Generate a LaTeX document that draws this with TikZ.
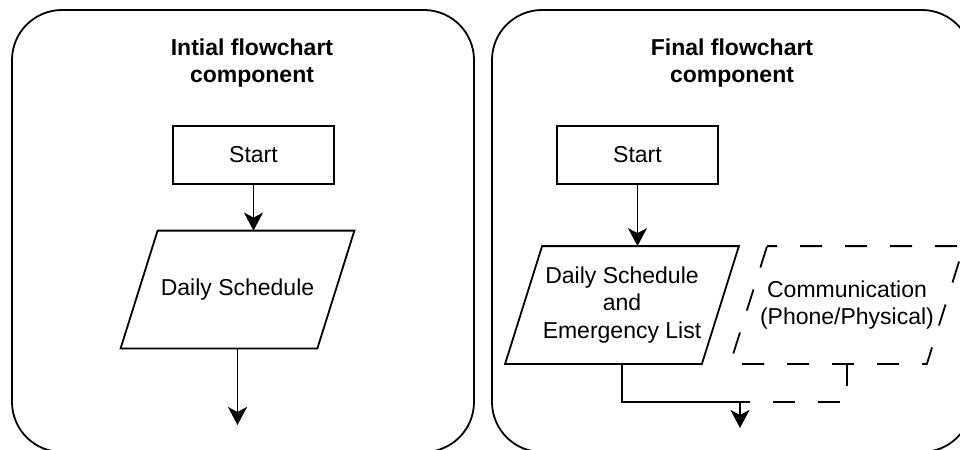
\documentclass[tikz,border=0pt]{standalone}
\usepackage{fontspec}
\setmainfont{Liberation Sans}
\usetikzlibrary{arrows.meta,positioning}

\begin{document}
\begin{tikzpicture}[x=0.5pt, y=-0.5pt, line width=0.9pt,
        txt/.style={font=\fontsize{11.5}{13.8}\selectfont, align=center},
        title/.style={font=\bfseries\fontsize{11.5}{13.8}\selectfont, align=center},
        panel/.style={draw, rounded corners=25pt},
        startbox/.style={draw, txt, minimum width=80.5pt, minimum height=29pt},
        iobox/.style={txt, minimum width=97.5pt, minimum height=58pt, inner sep=0pt,
            append after command={\pgfextra{\draw[#1]
                ([xshift=9.25pt]\tikzlastnode.north west) -- ([xshift=9.25pt]\tikzlastnode.north east)
                -- ([xshift=-9.25pt]\tikzlastnode.south east) -- ([xshift=-9.25pt]\tikzlastnode.south west)
                -- cycle;}}},
        iobox/.default={},
        flow/.style={-{Stealth[length=9pt, width=9.5pt, inset=2.5pt]}},
        dashedline/.style={dash pattern=on 11pt off 11.5pt, dash phase=6pt}]
    \useasboundingbox (0,0) rectangle (960,450);
    \clip (0,0) rectangle (960,450);

    % left panel
    \draw[panel] (12,10) rectangle (474,452);
    \node[title] (T1) at (252,63) {Intial flowchart\\component};
    \node[startbox] (S1) at (253.5,155) {Start};
    \node[iobox] (D1) at (237.5,289.5) {Daily Schedule};
    \coordinate (E1) at (237.5,425);

    % right panel
    \draw[panel] (492,10) rectangle (972,452);
    \node[title] (T2) at (732,63) {Final flowchart\\component};
    \node[startbox] (S2) at (637.5,155) {Start};
    \node[iobox] (D2) at (622,305) {Daily Schedule\\and\\Emergency List};
    \node[iobox=dashedline] (C2) at (847,305) {Communication\\(Phone/Physical)};
    \coordinate (J2) at (740,402);
    \coordinate (E2) at (740,428);

    \draw[flow] (S1) -- (S1 |- D1.north);
    \draw[flow] (D1) -- (E1);
    \draw[flow] (S2) -- (S2 |- D2.north);
    \draw[flow] (D2) |- (J2) -- (E2);
    \draw[dashedline, dash phase=0pt] (C2) |- (J2);
\end{tikzpicture}
\end{document}
